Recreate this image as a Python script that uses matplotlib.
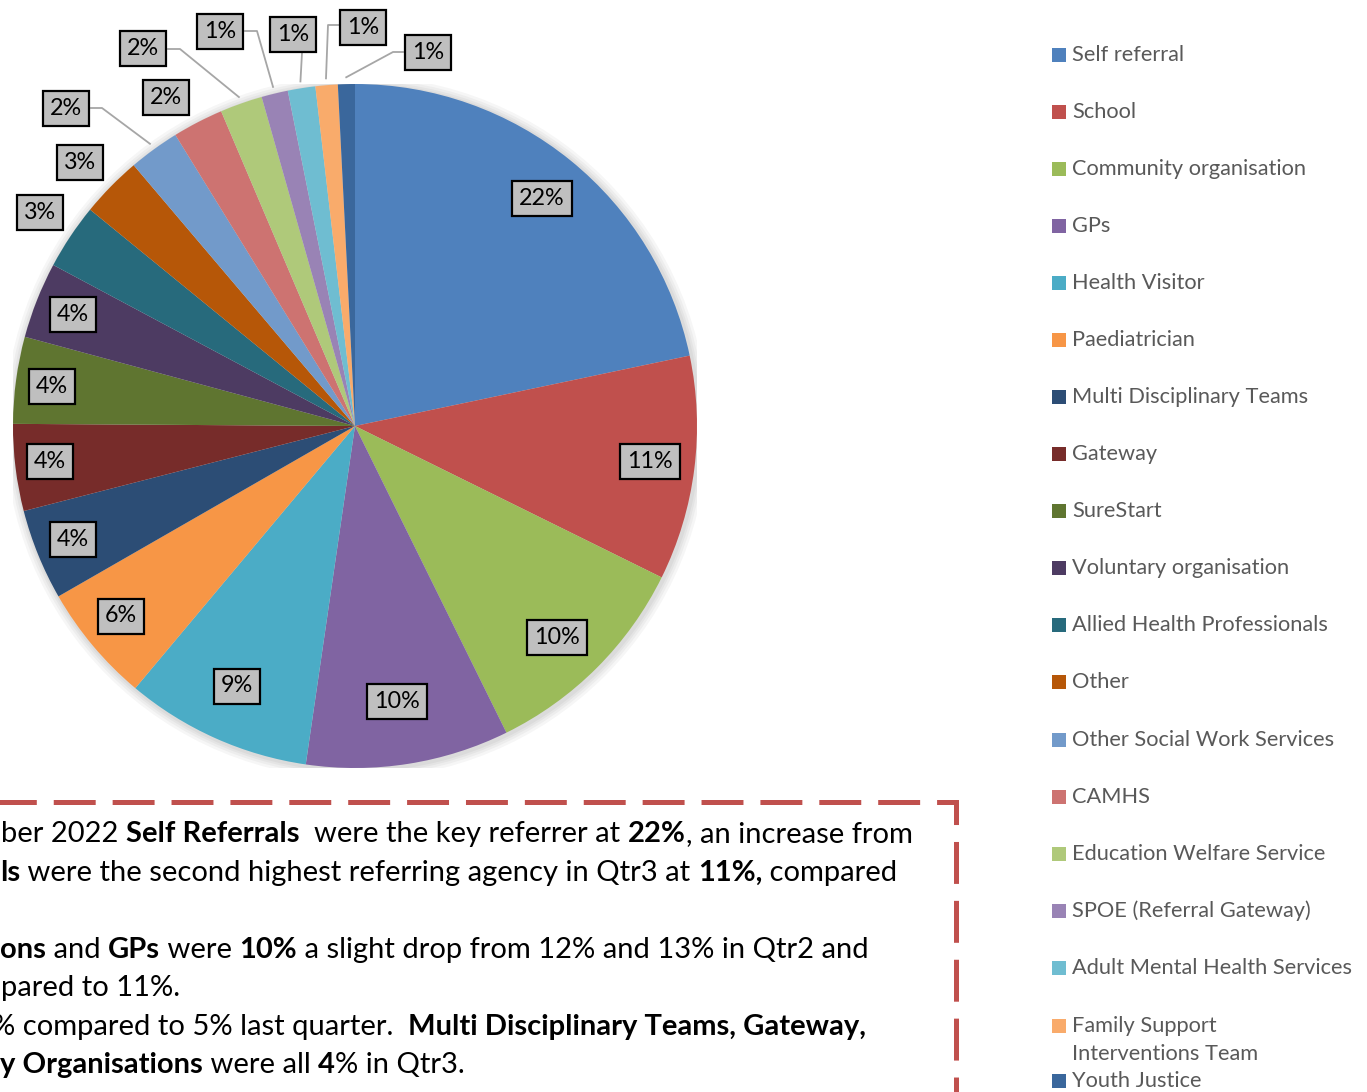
import matplotlib
matplotlib.use("Agg")
import matplotlib.pyplot as plt
from matplotlib.lines import Line2D
from matplotlib.patches import Rectangle, Circle
import numpy as np

plt.rcParams['lines.scale_dashes'] = False

# ---------------- data ----------------
categories = ["Self referral", "School", "Community organisation", "GPs", "Health Visitor",
              "Paediatrician", "Multi Disciplinary Teams", "Gateway", "SureStart",
              "Voluntary organisation", "Allied Health Professionals", "Other",
              "Other Social Work Services", "CAMHS", "Education Welfare Service",
              "SPOE (Referral Gateway)", "Adult Mental Health Services",
              "Family Support\nInterventions Team", "Youth Justice"]
values = [21.7, 10.6, 10.4, 9.6, 8.8, 5.6, 4.3, 4.1, 4.1, 3.6, 3.1, 2.9,
          2.4, 2.4, 2.0, 1.25, 1.3, 1.05, 0.8]
colors = ["#4F81BD", "#C0504D", "#9BBB59", "#8064A2", "#4BACC6", "#F79646",
          "#2C4D75", "#772C2A", "#5F7530", "#4D3B62", "#276A7C", "#B65708",
          "#729ACA", "#CD7371", "#AFC97A", "#9983B5", "#6FBDD1", "#F9AB6B", "#3A679C"]

# ---------------- layout (pixels) ----------------
W, H = 1367, 1092
cx, cy, R = 355, 426, 342
label_pos = [(542, 198), (650, 461), (557, 637), (397, 701), (237, 686), (121, 616),
             (73, 539), (50, 461), (52, 386), (73, 314), (40, 212), (80, 162),
             (66, 108), (166, 97), (143, 48), (220, 31), (293, 34), (363, 27), (428, 52)]
# leader lines: index -> (box edge point, elbow point)
leaders = {12: ((91, 108), (102, 108)), 14: ((168, 49), (180, 49)),
           15: ((245, 31), (257, 31)), 16: ((302, 53), (302, 53)),
           17: ((339, 25), (328, 25)), 18: ((403, 52), (393, 52))}
legend_y = [55, 112, 169, 226, 283, 340, 397, 454, 511, 568, 625, 682, 740,
            797, 854, 911, 968, 1026, 1081]

FONT = "Lato"

fig = plt.figure(figsize=(W / 100, H / 100), dpi=100)
fig.patch.set_facecolor("white")

def fx(px):
    return px / W

def fy(py):
    return 1 - py / H

ax = fig.add_axes([(cx - R) / W, 1 - (cy + R) / H, 2 * R / W, 2 * R / H])

def d(px, py):
    return ((px - cx) / R, (cy - py) / R)

# soft shadow
for r in [1.028, 1.02, 1.013, 1.007]:
    ax.add_patch(Circle((0.004, -0.004), r, color="#000000", alpha=0.035, lw=0, zorder=0))

total = sum(values)
wedges, _ = ax.pie(values, colors=colors, startangle=90, counterclock=False, radius=1,
                   wedgeprops=dict(linewidth=0, zorder=1))
ax.set_xlim(-1, 1)
ax.set_ylim(-1, 1)
ax.axis("off")

for i, (w, v) in enumerate(zip(wedges, values)):
    txt = f"{round(v / total * 100)}%"
    x, y = d(*label_pos[i])
    ax.text(x, y, txt, ha="center", va="center", fontsize=16.8, family=FONT, color="black",
            zorder=5, clip_on=False,
            bbox=dict(boxstyle="square,pad=0.3", fc="#BFBFBF", ec="black", lw=1.6))
    if i in leaders:
        mid = np.deg2rad((w.theta1 + w.theta2) / 2)
        ax_pt = (1.02 * np.cos(mid), 1.02 * np.sin(mid))
        (bx, by), (ex, ey) = leaders[i]
        p1 = d(bx, by)
        p2 = d(ex, ey)
        ax.plot([p1[0], p2[0], ax_pt[0]], [p1[1], p2[1], ax_pt[1]], color="#A6A6A6",
                lw=1.3, zorder=3, clip_on=False)

# ---------------- legend ----------------
for i, (cat, col) in enumerate(zip(categories, colors)):
    y = legend_y[i]
    fig.add_artist(Rectangle((fx(1052), fy(y + 7)), 14 / W, 14 / H, color=col,
                             transform=fig.transFigure, lw=0))
    lines = cat.split("\n")
    for k, ln in enumerate(lines):
        fig.text(fx(1072), fy(y + k * 28), ln, ha="left", va="center", fontsize=15.7,
                 family=FONT, color="#595959")

# ---------------- dashed text box ----------------
box = Line2D([fx(956), fx(956), fx(-20)], [fy(1110), fy(802), fy(802)],
             transform=fig.transFigure, color="#C0504D", lw=3.6,
             solid_joinstyle="miter", dash_joinstyle="miter", dash_capstyle="butt",
             linestyle=(18.7, (30.2, 12.2)))
fig.add_artist(box)

text_lines = [
    (1, 842, [("Decem", False), ("ber 2022 ", False), ("Self Referrals", True),
              ("  were the key referrer at ", False), ("22%", True), (", an increase from", False)]),
    (0, 881, [("Schoo", True), ("ls", True), (" were the second highest referring agency in Qtr3 at ", False),
              ("11%,", True), (" compared", False)]),
    (0, 958, [("Organisati", True), ("ons", True), (" and ", False), ("GPs", True), (" were ", False),
              ("10%", True), (" a slight drop from 12% and 13% in Qtr2 and", False)]),
    (1, 996, [("com", False), ("pared to 11%.", False)]),
    (-8, 1035, [("6", False), ("% compared to 5% last quarter.  ", False),
                ("Multi Disciplinary Teams, Gateway,", True)]),
    (0, 1073, [("Voluntar", True), ("y Organisations", True), (" were all ", False), ("4", True),
               ("% in Qtr3.", False)]),
]

renderer = fig.canvas.get_renderer()
TS = 21

def seg_width(s, bold):
    def w(t):
        tt = fig.text(0, 0, t, fontsize=TS, family=FONT, fontweight="bold" if bold else "normal")
        ext = tt.get_window_extent(renderer).width
        tt.remove()
        return ext
    return w("|" + s + "|") - w("||")

for vis_x, base, segs in text_lines:
    x = vis_x - seg_width(*segs[0])
    for s, bold in segs:
        fig.text(fx(x), fy(base), s, ha="left", va="baseline", fontsize=TS, family=FONT,
                 fontweight="bold" if bold else "normal", color="black")
        x += seg_width(s, bold)

fig.savefig("out.png", dpi=100, facecolor="white")
